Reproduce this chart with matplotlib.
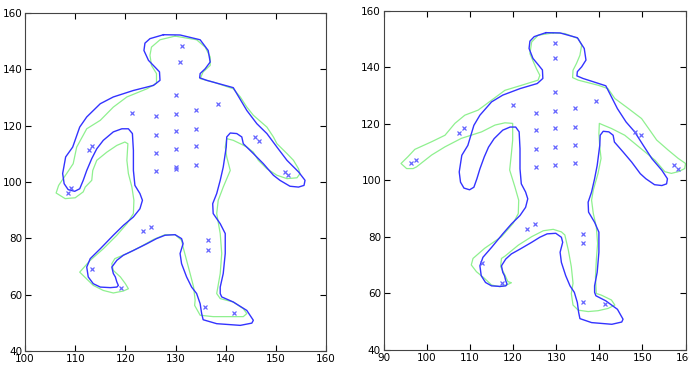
import matplotlib.pyplot as plt

# template outline (blue), same in both panels
blue_x = [127.6, 130.9, 134.9, 136.5, 136.9, 135.9, 134.9, 134.8, 136.2, 141.5, 144.2, 146.2, 148.2,
          150.2, 152.2, 154.5, 155.8, 155.6, 154.5, 152.8, 150.8, 149.5, 147.5, 145.5, 143.5, 143.2,
          142.2, 140.9, 140.2, 140.1, 139.5, 138.9, 138.2, 137.4, 137.5, 138.9, 139.9, 139.9, 139.5,
          138.9, 138.9, 139.2, 141.5, 144.2, 145.5, 145.2, 142.9, 138.2, 135.5, 135.2, 134.9, 134.2,
          133.2, 132.2, 131.2, 130.9, 131.5, 131.2, 129.9, 127.9, 126.2, 124.3, 121.6, 119.6, 118.3,
          117.3, 117.6, 118.0, 118.3, 118.6, 118.3, 117.0, 115.0, 113.6, 112.6, 112.3, 113.0, 115.0,
          117.6, 119.6, 121.6, 122.9, 123.4, 122.9, 121.9, 121.6, 121.6, 121.4, 120.6, 119.3, 117.6,
          115.6, 114.3, 113.3, 112.3, 111.6, 110.9, 109.9, 108.6, 107.8, 107.5, 108.1, 109.5, 110.9,
          112.3, 115.0, 117.6, 121.6, 125.6, 126.9, 126.8, 125.9, 124.6, 123.7, 123.9, 124.9]
blue_y = [152.3, 152.2, 150.5, 146.7, 142.6, 140.2, 138.5, 137.0, 136.1, 133.5, 125.4, 120.7, 117.2,
          112.4, 107.7, 103.6, 100.6, 98.8, 98.2, 98.5, 100.6, 102.4, 106.5, 110.1, 113.6, 116.0,
          117.2, 117.4, 116.0, 112.4, 105.3, 100.6, 95.9, 92.3, 88.8, 85.2, 81.7, 74.6, 67.5,
          62.7, 60.4, 59.2, 57.4, 54.4, 50.9, 49.9, 49.1, 49.7, 51.1, 53.3, 56.8, 60.4,
          62.7, 66.3, 71.0, 74.6, 78.1, 79.9, 81.3, 81.1, 79.9, 78.1, 75.7, 74.0, 72.2,
          69.8, 67.5, 66.3, 64.5, 63.3, 62.7, 62.5, 62.7, 63.9, 66.3, 69.8, 72.8, 76.3,
          81.1, 84.6, 87.6, 90.5, 93.5, 95.9, 98.8, 104.1, 111.2, 117.2, 118.9, 118.9, 117.8,
          114.8, 111.8, 108.3, 104.1, 100.6, 97.6, 96.7, 97.3, 99.4, 103.0, 108.9, 112.4, 119.5,
          123.1, 127.8, 130.2, 132.5, 134.3, 136.1, 139.1, 140.8, 143.2, 146.7, 149.3, 150.9]

# fitted outline, left panel (green)
green1_x = [129.9, 134.2, 135.9, 136.9, 136.9, 135.5, 134.9, 137.5, 141.5, 142.9, 144.2, 145.5, 148.2,
            149.5, 150.2, 152.2, 153.5, 154.5, 154.8, 154.2, 152.2, 150.2, 148.2, 146.5, 145.5, 144.2,
            142.9, 141.5, 140.2, 139.9, 140.2, 140.9, 139.5, 138.5, 138.2, 138.9, 139.2, 138.9, 138.2,
            138.9, 141.5, 143.5, 144.2, 143.5, 141.5, 137.5, 134.9, 133.8, 133.9, 133.6, 132.9, 132.2,
            131.5, 131.2, 129.9, 127.9, 125.6, 122.9, 120.3, 117.9, 117.3, 117.6, 119.0, 120.0, 120.6,
            119.6, 117.6, 115.6, 113.6, 110.9, 113.0, 115.6, 118.3, 120.3, 121.6, 121.7, 121.3, 120.6,
            120.3, 120.5, 119.9, 118.3, 116.3, 114.3, 113.5, 113.3, 112.0, 111.6, 110.0, 108.0, 106.2,
            106.7, 108.3, 109.6, 110.3, 112.3, 115.0, 117.6, 120.3, 124.3, 126.2, 126.2, 125.2, 124.9,
            125.2, 126.9]
green1_y = [151.8, 150.5, 147.9, 144.4, 141.4, 139.1, 136.7, 135.5, 133.1, 130.2, 126.6, 123.7, 119.5,
            116.0, 113.6, 110.1, 107.7, 104.7, 103.0, 101.5, 101.2, 102.4, 104.7, 107.7, 110.6, 112.4,
            113.6, 114.8, 115.4, 112.4, 108.9, 104.1, 98.2, 93.5, 88.8, 81.7, 74.6, 67.5, 60.4,
            58.6, 57.4, 55.0, 53.3, 52.2, 52.2, 52.2, 52.7, 56.2, 58.0, 62.7, 67.5, 72.2,
            76.9, 79.3, 81.3, 81.3, 79.6, 76.9, 74.6, 72.8, 71.0, 68.6, 66.3, 63.9, 62.1,
            61.3, 60.6, 61.5, 63.3, 68.0, 72.2, 76.3, 81.1, 85.2, 88.8, 93.5, 98.2, 103.0,
            107.7, 113.6, 114.2, 113.0, 110.6, 107.7, 104.1, 100.6, 98.2, 96.5, 94.4, 94.1, 96.1,
            98.8, 103.0, 106.5, 112.4, 118.9, 121.9, 126.6, 130.2, 133.1, 135.1, 138.5, 141.4, 145.0,
            147.9, 150.5]

# fitted outline, right panel (green)
green2_x = [129.3, 132.0, 135.1, 135.9, 135.5, 134.7, 133.9, 133.8, 135.1, 139.7, 142.0, 143.6, 146.7,
            149.8, 151.7, 153.3, 156.0, 158.3, 160.0, 159.8, 158.3, 156.7, 155.2, 152.9, 150.6, 148.2,
            145.9, 142.8, 140.9, 140.0, 139.9, 140.1, 140.4, 139.7, 138.6, 138.2, 138.6, 139.3, 139.6,
            139.3, 139.1, 139.3, 140.5, 142.8, 143.6, 142.0, 139.7, 137.4, 135.1, 133.9, 133.5, 133.9,
            133.5, 132.8, 132.0, 131.2, 129.3, 127.0, 124.3, 121.2, 118.1, 117.3, 117.1, 118.1, 118.8,
            119.6, 118.5, 116.9, 115.0, 113.4, 111.5, 110.3, 110.7, 113.4, 117.3, 120.0, 121.2, 121.3,
            120.4, 119.2, 119.6, 119.9, 119.9, 118.1, 115.8, 112.7, 108.0, 104.2, 101.1, 97.6, 96.8,
            95.3, 94.0, 95.6, 97.2, 101.1, 104.2, 106.5, 108.8, 111.9, 115.0, 118.1, 122.0, 125.8,
            126.2, 125.4, 124.7, 123.9, 124.3, 125.8]
green2_y = [152.2, 152.0, 150.2, 147.9, 144.3, 141.4, 139.0, 136.4, 135.5, 133.7, 132.5, 129.0, 125.5,
            121.9, 117.8, 114.3, 110.7, 107.8, 106.0, 104.2, 103.1, 102.5, 103.1, 107.2, 110.1, 113.1,
            116.0, 118.4, 119.6, 120.2, 116.6, 111.9, 107.8, 102.5, 96.6, 93.0, 88.3, 83.6, 77.7,
            71.8, 65.9, 60.0, 59.4, 57.7, 55.9, 54.7, 53.9, 53.6, 54.1, 55.9, 60.0, 63.6,
            69.5, 75.4, 80.7, 81.8, 82.7, 82.2, 80.1, 77.1, 73.2, 72.4, 69.5, 66.5, 64.2,
            63.8, 63.0, 62.4, 63.0, 65.3, 67.7, 70.1, 72.4, 76.0, 80.1, 84.8, 88.3, 93.0,
            97.8, 103.7, 109.5, 114.3, 120.2, 120.4, 119.6, 117.2, 114.9, 111.9, 109.0, 104.8, 104.2,
            104.2, 106.0, 108.4, 111.0, 113.7, 116.0, 120.2, 123.1, 124.9, 128.4, 131.9, 133.7, 135.5,
            137.2, 139.6, 142.0, 144.9, 149.0, 151.4]

# landmark points
marks1_x = [131.2, 130.9, 130.0, 130.0, 130.0, 130.0, 130.0, 130.0, 126.2, 126.2, 126.2, 126.2,
            121.3, 134.1, 134.1, 134.1, 134.1, 138.5, 145.8, 146.6, 112.8, 113.3, 109.1, 108.6,
            151.8, 152.5, 123.6, 125.1, 136.5, 136.5, 113.3, 119.1, 135.8, 141.7]
marks1_y = [148.2, 142.6, 131.0, 124.3, 118.0, 111.6, 105.3, 104.5, 123.3, 116.8, 110.4, 103.8,
            124.5, 125.4, 118.9, 112.7, 105.9, 127.8, 116.0, 114.6, 111.2, 112.9, 98.0, 96.2,
            103.6, 102.4, 82.5, 84.0, 79.3, 76.0, 69.1, 62.4, 55.6, 53.6]
marks2_x = [129.7, 129.7, 129.7, 129.7, 129.7, 129.7, 129.7, 125.4, 125.4, 125.4, 125.4, 119.9,
            134.3, 134.3, 134.3, 134.3, 139.3, 148.2, 149.6, 107.4, 108.6, 96.2, 97.4, 157.3,
            158.3, 123.3, 125.0, 136.1, 136.1, 112.7, 117.5, 136.2, 141.4]
marks2_y = [148.8, 143.4, 131.2, 124.6, 118.4, 111.9, 105.4, 123.9, 117.7, 111.0, 104.6, 126.6,
            125.5, 119.0, 112.4, 106.0, 128.2, 117.1, 116.0, 116.9, 118.4, 106.0, 107.4, 105.4,
            103.9, 82.8, 84.6, 81.0, 78.0, 70.9, 63.8, 57.1, 56.3]

BLUE = '#3333ff'
GREEN = '#8ff08f'
MARK = '#6666ff'


def closed(xs, ys):
    return list(xs) + [xs[0]], list(ys) + [ys[0]]


def draw(ax, gx, gy, mx, my, xlim, xticks):
    bx, by = closed(blue_x, blue_y)
    cx, cy = closed(gx, gy)
    ax.plot(cx, cy, color=GREEN, lw=0.9)
    ax.plot(bx, by, color=BLUE, lw=1.0)
    ax.plot(mx, my, 'x', color=MARK, ms=3.5, mew=0.9, ls='none')
    ax.set_xlim(*xlim)
    ax.set_ylim(40, 160)
    ax.set_xticks(xticks)
    ax.set_yticks(range(40, 161, 20))
    ax.tick_params(direction='in', length=4, width=0.8, labelsize=7.5, top=True, right=True, pad=2)
    for s in ax.spines.values():
        s.set_color('#444444')
        s.set_linewidth(0.8)


fig = plt.figure(figsize=(6.89, 3.71), dpi=100)
ax1 = fig.add_axes([0.0363, 0.0539, 0.437, 0.911])
ax2 = fig.add_axes([0.557, 0.0566, 0.438, 0.914])

draw(ax1, green1_x, green1_y, marks1_x, marks1_y, (100, 160), range(100, 161, 10))
draw(ax2, green2_x, green2_y, marks2_x, marks2_y, (90, 160), range(90, 161, 10))

fig.savefig('out.png', dpi=100)
